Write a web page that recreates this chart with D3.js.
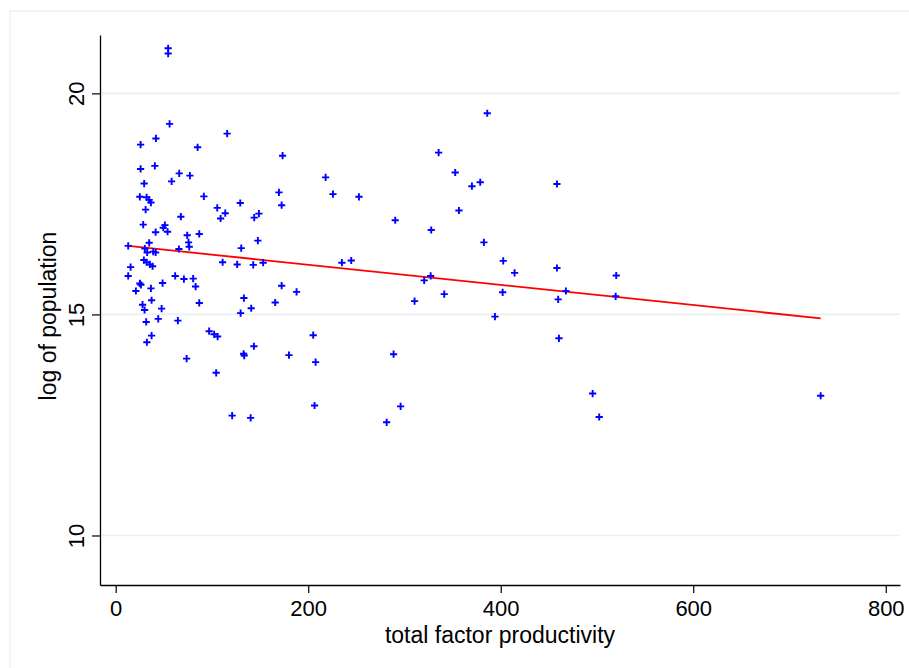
<!DOCTYPE html>
<html>
<head>
<meta charset="utf-8">
<script src="https://cdn.jsdelivr.net/npm/d3@7"></script>
<style>
  body { margin: 0; background: #fff; }
  svg text { font-family: "Liberation Sans", Arial, Helvetica, sans-serif; fill: #000; }
</style>
</head>
<body>
<svg id="chart" width="909" height="668"></svg>
<script>
// total factor productivity (x) and log of population (y)
const tfp = [
  54.5, 54.5, 56.0, 25.9, 41.8, 85.1, 115.8, 173.4, 25.9, 40.7,
  29.6, 66.0, 58.1, 77.1, 25.1, 32.1, 34.8, 36.6, 91.6, 31.1,
  105.5, 113.8, 109.0, 129.4, 169.6, 172.4, 143.9, 148.8, 28.6, 51.1,
  49.4, 67.7, 53.9, 41.5, 74.3, 86.8, 34.8, 75.7, 76.4, 13.0,
  30.3, 32.7, 39.0, 41.5, 65.7, 130.4, 147.7, 29.3, 32.1, 35.5,
  38.3, 15.5, 111.1, 126.2, 142.9, 153.2, 13.0, 61.8, 70.9, 80.5,
  25.1, 26.2, 83.0, 48.7, 36.6, 21.0, 172.4, 187.9, 37.3, 27.9,
  30.0, 47.7, 86.8, 133.2, 140.8, 165.7, 129.8, 31.7, 44.2, 64.6,
  97.1, 102.3, 105.9, 37.3, 32.4, 143.6, 132.9, 133.5, 180.0, 73.7,
  104.4, 121.0, 140.2, 386.0, 335.5, 218.1, 225.7, 252.7, 352.7, 370.1,
  378.7, 458.4, 356.6, 290.4, 327.8, 382.5, 235.0, 244.7, 402.6, 414.4,
  458.4, 320.5, 327.2, 310.5, 341.3, 402.0, 459.7, 467.7, 394.0, 205.2,
  207.7, 288.7, 460.5, 206.6, 296.0, 281.5, 520.0, 519.4, 495.5, 502.3,
  732.4
];
const logPop = [
  21.02, 20.90, 19.31, 18.84, 18.98, 18.78, 19.09, 18.59, 18.29, 18.36,
  17.96, 18.19, 18.01, 18.14, 17.66, 17.65, 17.59, 17.53, 17.67, 17.37,
  17.41, 17.29, 17.17, 17.52, 17.76, 17.47, 17.19, 17.28, 17.03, 17.02,
  16.96, 17.21, 16.87, 16.86, 16.79, 16.82, 16.62, 16.63, 16.53, 16.55,
  16.49, 16.40, 16.42, 16.40, 16.48, 16.50, 16.67, 16.23, 16.18, 16.13,
  16.09, 16.07, 16.18, 16.13, 16.12, 16.17, 15.87, 15.87, 15.80, 15.81,
  15.70, 15.67, 15.63, 15.71, 15.59, 15.53, 15.65, 15.51, 15.32, 15.22,
  15.10, 15.13, 15.26, 15.37, 15.14, 15.27, 15.03, 14.83, 14.90, 14.86,
  14.62, 14.55, 14.50, 14.52, 14.37, 14.28, 14.11, 14.07, 14.08, 14.00,
  13.68, 12.71, 12.66, 19.55, 18.66, 18.10, 17.72, 17.66, 18.21, 17.90,
  17.99, 17.95, 17.35, 17.13, 16.91, 16.63, 16.17, 16.22, 16.21, 15.94,
  16.05, 15.77, 15.87, 15.30, 15.46, 15.50, 15.34, 15.53, 14.95, 14.53,
  13.92, 14.10, 14.46, 12.94, 12.92, 12.56, 15.88, 15.41, 13.21, 12.68,
  13.16
];
// fitted line end points
const fitX = [13.0, 732.4];
const fitY = [16.55, 14.91];

const xTicks = [0, 200, 400, 600, 800];
const yTicks = [10, 15, 20];
const xDomain = [-16.3, 814.8];
const yDomain = [8.88, 21.32];

const plot = { left: 100, right: 900, top: 35, bottom: 585 };
const svg = d3.select("#chart");

// faint outer frame of the graph region
svg.append("rect")
    .attr("x", 10).attr("y", 11)
    .attr("width", 1000).attr("height", 1000)
    .attr("fill", "none").attr("stroke", "#e6eef0").attr("stroke-width", 1.2);

const x = d3.scaleLinear().domain(xDomain).range([plot.left, plot.right]);
const y = d3.scaleLinear().domain(yDomain).range([plot.bottom, plot.top]);

// horizontal grid
svg.append("g")
  .selectAll("line")
  .data(yTicks)
  .join("line")
    .attr("x1", plot.left).attr("x2", plot.right)
    .attr("y1", d => y(d)).attr("y2", d => y(d))
    .attr("stroke", "#e8f0f1").attr("stroke-width", 1.6);

// axes
const xAxis = svg.append("g")
    .attr("transform", "translate(0," + plot.bottom + ")")
    .call(d3.axisBottom(x).tickValues(xTicks).tickSize(8).tickSizeOuter(0).tickPadding(7));
const yAxis = svg.append("g")
    .attr("transform", "translate(" + plot.left + ",0)")
    .call(d3.axisLeft(y).tickValues(yTicks).tickSize(8).tickSizeOuter(0));

[xAxis, yAxis].forEach(function(g){
  g.select(".domain").attr("stroke", "#000").attr("stroke-width", 1.3);
  g.selectAll(".tick line").attr("stroke", "#000").attr("stroke-width", 1.2);
  g.selectAll(".tick text").attr("font-size", 22).attr("font-family", null);
});
yAxis.selectAll(".tick text")
    .attr("transform", "rotate(-90)")
    .attr("text-anchor", "middle")
    .attr("x", 0).attr("y", -16).attr("dy", 0);

// axis titles
svg.append("text")
    .attr("x", (plot.left + plot.right) / 2).attr("y", 643)
    .attr("text-anchor", "middle").attr("font-size", 23)
    .text("total factor productivity");
svg.append("text")
    .attr("transform", "translate(56," + 316 + ") rotate(-90)")
    .attr("text-anchor", "middle").attr("font-size", 23)
    .text("log of population");

// fitted line
const fit = d3.line().x(d => x(d[0])).y(d => y(d[1]));
svg.append("path")
    .datum(d3.zip(fitX, fitY))
    .attr("d", fit)
    .attr("fill", "none").attr("stroke", "#ff0000").attr("stroke-width", 1.8);

// points as plus markers
const PLUS = "M -3.6 0 H 3.6 M 0 -3.6 V 3.6";
svg.append("g")
  .selectAll("path")
  .data(d3.zip(tfp, logPop))
  .join("path")
    .attr("transform", d => "translate(" + [x(d[0]), y(d[1])] + ")")
    .attr("d", PLUS)
    .attr("fill", "none").attr("stroke", "#0000ff").attr("stroke-width", 1.9);
</script>
</body>
</html>
